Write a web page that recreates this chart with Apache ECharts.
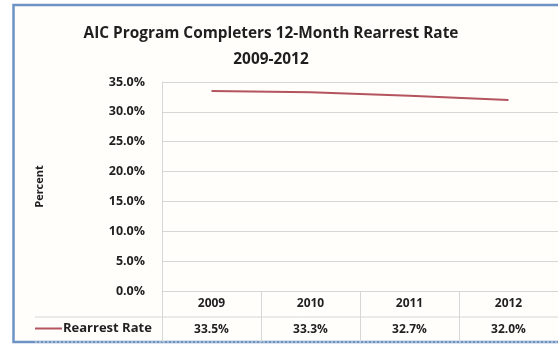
<!DOCTYPE html>
<html>
<head>
<meta charset="utf-8">
<script src="https://cdn.jsdelivr.net/npm/echarts@6/dist/echarts.min.js"></script>
<style>
  html, body { margin: 0; padding: 0; background: #ffffff; }
  #chart { width: 558px; height: 346px; }
</style>
</head>
<body>
<div id="chart"></div>
<script>
// Rearrest rate of program completers, one value per year
const years = ['2009', '2010', '2011', '2012'];
const rearrestRate = [33.5, 33.3, 32.7, 32.0];
const seriesName = 'Rearrest Rate';
const yTicks = { min: 0, max: 35, interval: 5 };

// plot-area layout
const W = 558, H = 346;
const gridLeft = 162, gridTop = 82, gridBottomY = 291, gridRight = 0;
const rowH = 26;
const tableMid = gridBottomY + rowH, tableBottom = gridBottomY + 2 * rowH - 1;
const labelFont = '"Open Sans", Lato, sans-serif';
const textColor = '#1f1f1f';
const gridColor = '#d6d6d6';

const chart = echarts.init(document.getElementById('chart'), null, { renderer: 'canvas' });

const boldText = (size) => ({ fontFamily: labelFont, fontWeight: 'bold', fontSize: size, color: textColor });

chart.setOption({
  backgroundColor: '#ffffff',
  animation: false,
  title: {
    text: 'AIC Program Completers 12-Month Rearrest Rate\n2009-2012',
    left: 266,
    top: 16,
    textAlign: 'center',
    textStyle: Object.assign(boldText(15.4), { lineHeight: 26, align: 'center' })
  },
  legend: {
    data: [seriesName],
    left: 35,
    top: tableMid + 5,
    padding: 0,
    icon: 'rect',
    itemWidth: 27,
    itemHeight: 2,
    itemGap: 0,
    textStyle: Object.assign(boldText(13), { padding: [0, 0, 0, -4] })
  },
  graphic: [
    // outer frame
    {
      type: 'rect', z: -1, silent: true,
      shape: { x: 13.5, y: 5, width: 700, height: 337 },
      style: { fill: '#fffefb', stroke: '#6c93c4', lineWidth: 2.5 }
    },
    // data table rules
    {
      type: 'line', silent: true,
      shape: { x1: 35, y1: tableMid, x2: W, y2: tableMid },
      style: { stroke: gridColor, lineWidth: 1 }
    },
    {
      type: 'line', silent: true,
      shape: { x1: 35, y1: tableBottom, x2: W, y2: tableBottom },
      style: { stroke: '#e2e2e2', lineWidth: 1, lineDash: [2, 2] }
    }
  ],
  grid: {
    left: gridLeft,
    right: gridRight,
    top: gridTop,
    bottom: H - gridBottomY
  },
  xAxis: {
    type: 'category',
    data: years,
    boundaryGap: true,
    axisLine: { show: true, lineStyle: { color: gridColor, width: 1 } },
    axisTick: { show: true, length: 2 * rowH - 1, lineStyle: { color: gridColor, width: 1 } },
    axisLabel: Object.assign(boldText(12), {
      margin: 0,
      interval: 0,
      formatter: (val, idx) => `{y|${val}}\n{v|${rearrestRate[idx].toFixed(1)}%}`,
      rich: {
        y: Object.assign(boldText(12), { lineHeight: rowH }),
        v: Object.assign(boldText(12), { lineHeight: rowH })
      }
    })
  },
  yAxis: {
    type: 'value',
    min: yTicks.min,
    max: yTicks.max,
    interval: yTicks.interval,
    name: 'Percent',
    nameLocation: 'middle',
    nameRotate: 90,
    nameGap: 117,
    nameTextStyle: boldText(11),
    axisLine: { show: true, lineStyle: { color: gridColor, width: 1 } },
    axisTick: { show: false },
    splitLine: { show: true, lineStyle: { color: gridColor, width: 1 } },
    axisLabel: Object.assign(boldText(12.5), {
      margin: 17,
      formatter: v => v.toFixed(1) + '%'
    })
  },
  series: [{
    name: seriesName,
    type: 'line',
    data: rearrestRate,
    symbol: 'none',
    lineStyle: { color: '#b3545e', width: 2 },
    itemStyle: { color: '#b3545e' }
  }]
});
</script>
</body>
</html>
